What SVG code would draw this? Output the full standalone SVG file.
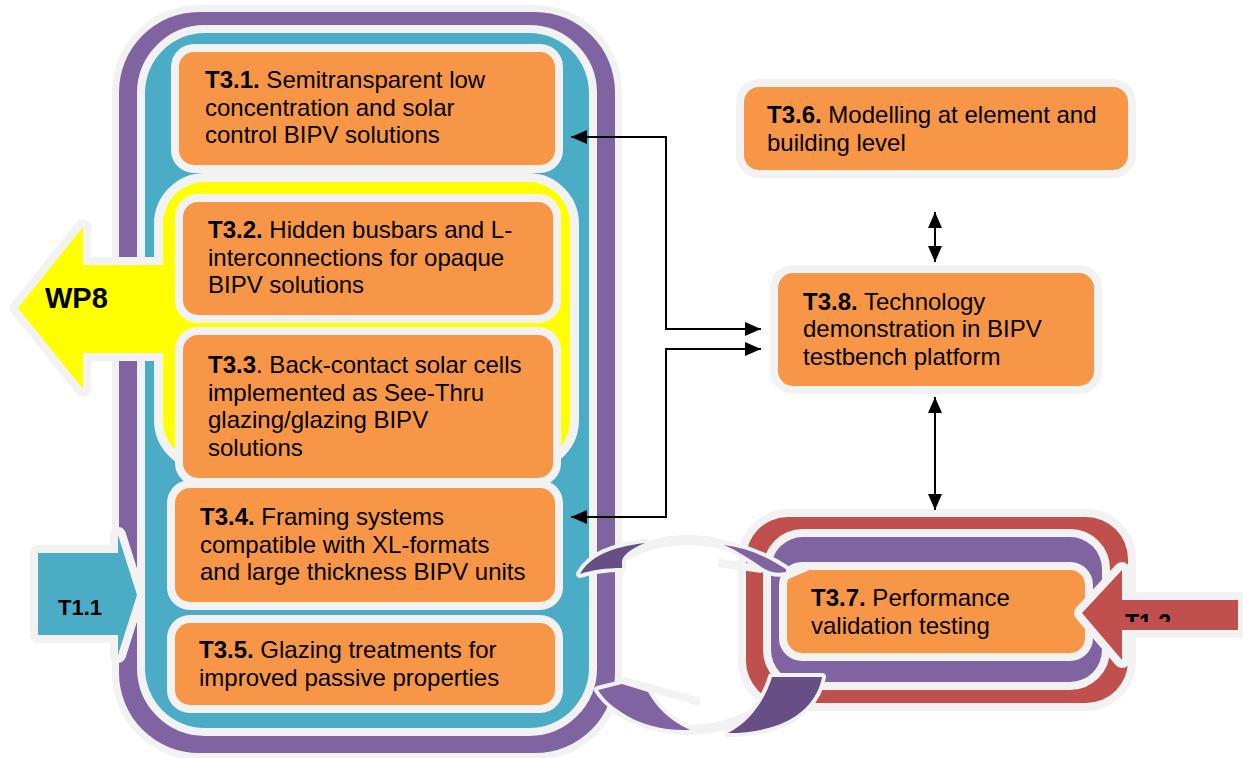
<svg xmlns="http://www.w3.org/2000/svg" width="1243" height="758" viewBox="0 0 1243 758">
  <style>
    .ol { stroke: #f2f2f2; paint-order: stroke; stroke-linejoin: round; }
    .box { fill: #f79646; stroke: #f2f2f2; stroke-width: 16; paint-order: stroke; }
    .t { font-family: "Liberation Sans", Arial, sans-serif; font-size: 24px; fill: #000; }
    .b { font-weight: bold; }
    .lbl { font-family: "Liberation Sans", Arial, sans-serif; font-weight: bold; fill: #000; }
    .conn { fill: none; stroke: #000; stroke-width: 2; marker-start: url(#ah); marker-end: url(#ah); }
    .crl { fill: #8064a2; stroke: #f2f2f2; stroke-width: 8; paint-order: stroke; stroke-linejoin: round; }
    .crd { fill: #674e85; stroke: #f2f2f2; stroke-width: 8; paint-order: stroke; stroke-linejoin: round; }
  </style>
  <defs>
    <marker id="ah" viewBox="0 0 16 16" refX="16" refY="8" markerWidth="16" markerHeight="16" markerUnits="userSpaceOnUse" orient="auto-start-reverse">
      <path d="M0,1 L16,8 L0,15 Z" fill="#000"/>
    </marker>
    <clipPath id="clipT12">
      <rect x="1118" y="600" width="125" height="22"/>
    </clipPath>
  </defs>

  <rect width="1243" height="758" fill="#ffffff"/>

  <!-- ring between the task block and the validation block -->
  <ellipse id="ring" cx="688" cy="635" rx="115" ry="95" fill="#ffffff" stroke="#f2f2f2" stroke-width="10"/>

  <!-- main work package frame -->
  <g id="frame-outer">
    <rect x="119" y="12" width="496" height="741" rx="80" fill="#8064a2" class="ol" stroke-width="14"/>
  </g>

  <!-- incoming T1.1 -->
  <g id="in-T1.1">
    <path d="M38,553 L118,553 L118,535 L137,595 L118,655 L118,635 L38,635 Z" fill="#4bacc6" class="ol" stroke-width="16"/>
    <text class="lbl" x="58" y="615" font-size="22">T1.1</text>
  </g>

  <g id="frame-inner">
    <rect x="145" y="33" width="444" height="695" rx="60" fill="#4bacc6" class="ol" stroke-width="16"/>
  </g>

  <!-- group T3.2 / T3.3 with outgoing WP8 -->
  <g id="grp-wp8">
    <rect x="163" y="182" width="407" height="280" rx="42" fill="#ffff00" class="ol" stroke-width="18"/>
    <path d="M18,308 L83,227 L83,265 L175,265 L175,353 L83,353 L83,389 Z" fill="#ffff00" class="ol" stroke-width="16"/>
    <rect x="163" y="182" width="407" height="280" rx="42" fill="#ffff00"/>
    <text class="lbl" x="45" y="308" font-size="29">WP8</text>
  </g>

  <g id="T3.1">
    <rect class="box" x="179" y="52" width="376" height="113" rx="15"/>
    <text class="t" x="205" y="88"><tspan class="b">T3.1.</tspan> Semitransparent low</text>
    <text class="t" x="205" y="115.5">concentration and solar</text>
    <text class="t" x="205" y="143">control BIPV solutions</text>
  </g>

  <g id="T3.2">
    <rect class="box" x="183" y="202" width="370" height="113" rx="15"/>
    <text class="t" x="208" y="238"><tspan class="b">T3.2.</tspan> Hidden busbars and L-</text>
    <text class="t" x="208" y="265.5">interconnections for opaque</text>
    <text class="t" x="208" y="293">BIPV solutions</text>
  </g>

  <g id="T3.3">
    <rect class="box" x="183" y="335" width="370" height="143" rx="15"/>
    <text class="t" x="208" y="373"><tspan class="b">T3.3</tspan>. Back-contact solar cells</text>
    <text class="t" x="208" y="400.5">implemented as See-Thru</text>
    <text class="t" x="208" y="428">glazing/glazing BIPV</text>
    <text class="t" x="208" y="455.5">solutions</text>
  </g>

  <g id="T3.4">
    <rect class="box" x="175" y="488" width="380" height="114" rx="15"/>
    <text class="t" x="200" y="525"><tspan class="b">T3.4.</tspan> Framing systems</text>
    <text class="t" x="200" y="552.5">compatible with XL-formats</text>
    <text class="t" x="200" y="580">and large thickness BIPV units</text>
  </g>

  <g id="T3.5">
    <rect class="box" x="175" y="623" width="380" height="82" rx="15"/>
    <text class="t" x="199" y="658"><tspan class="b">T3.5.</tspan> Glazing treatments for</text>
    <text class="t" x="199" y="685.5">improved passive properties</text>
  </g>

  <!-- validation block -->
  <g id="T3.7">
    <rect x="746" y="517" width="382" height="186" rx="42" fill="#c0504d" class="ol" stroke-width="16"/>
    <rect x="771" y="537" width="331" height="145" rx="32" fill="#8064a2" class="ol" stroke-width="16"/>
    <rect class="box" x="787" y="570" width="298" height="83" rx="15"/>
    <text class="t" x="811" y="606"><tspan class="b">T3.7.</tspan> Performance</text>
    <text class="t" x="811" y="633.5">validation testing</text>
  </g>

  <!-- cycle arrows linking the two blocks -->
  <g id="cycle">
    <path class="crd" d="M580,574 C590,556 612,547 645,543 C630,549 622,556 622,562 L622,568 C606,568 592,570 580,574 Z"/>
    <path d="M718,563 L762,569" stroke="#f2f2f2" stroke-width="8" fill="none"/>
    <path class="crl" d="M724,545 C748,548 768,557 789,571 C780,574 771,573 763,568 C750,559 738,551 724,545 Z"/>
    <path d="M786,569 L812,569 L786,580 Z" fill="#f2f2f2"/>
    <path d="M622,680 L700,702" stroke="#f2f2f2" stroke-width="8" fill="none"/>
    <path class="crl" d="M598,690 L622,684 L648,692 C656,706 668,720 690,730 C664,731 640,725 621,712 C610,705 603,698 598,690 Z"/>
    <path class="crd" d="M772,677 L822,677 C818,700 800,718 775,726 C760,731 745,733 728,733 C750,722 765,700 772,677 Z"/>
  </g>

  <!-- incoming T1.2 -->
  <g id="in-T1.2">
    <path d="M1082,613 L1122,570 L1122,600 L1238,600 L1238,630 L1122,630 L1122,660 Z" fill="#c0504d" class="ol" stroke-width="16"/>
    <text class="lbl" x="1125" y="631" font-size="23" clip-path="url(#clipT12)">T1.2</text>
  </g>

  <g id="T3.6">
    <rect class="box" x="744" y="87" width="384" height="83" rx="15"/>
    <text class="t" x="767" y="123"><tspan class="b">T3.6.</tspan> Modelling at element and</text>
    <text class="t" x="767" y="150.5">building level</text>
  </g>

  <g id="T3.8">
    <rect class="box" x="778" y="273" width="316" height="113" rx="15"/>
    <text class="t" x="803" y="309.5"><tspan class="b">T3.8.</tspan> Technology</text>
    <text class="t" x="803" y="337">demonstration in BIPV</text>
    <text class="t" x="803" y="364.5">testbench platform</text>
  </g>

  <g id="connectors">
    <path class="conn" d="M571,137 H666 V329 H761"/>
    <path class="conn" d="M571,517 H666 V349 H761"/>
    <path class="conn" d="M935,212 V262"/>
    <path class="conn" d="M935,397 V510"/>
  </g>
</svg>
